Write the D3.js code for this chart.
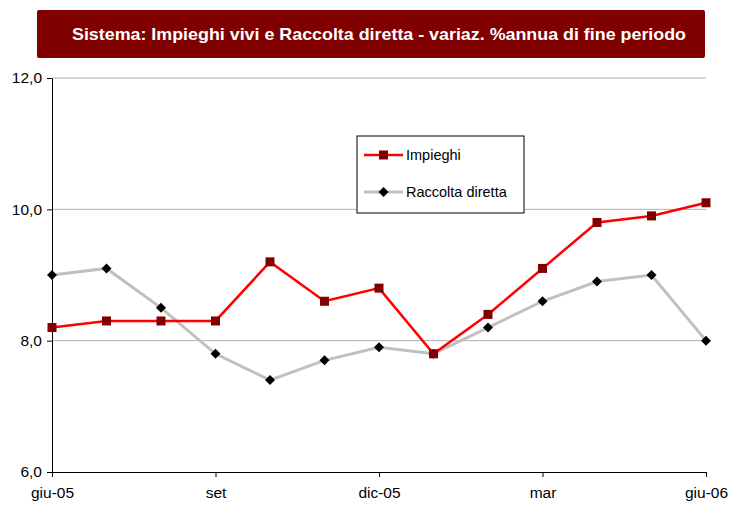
<!DOCTYPE html>
<html>
<head>
<meta charset="utf-8">
<script src="https://cdn.jsdelivr.net/npm/d3@7"></script>
<style>
  body { margin: 0; background: #fff; }
  text { font-family: "Liberation Sans", Arial, sans-serif; }
</style>
</head>
<body>
<div id="graph"></div>
<script>
// data
const months = ['giu-05', 'lug', 'ago', 'set', 'ott', 'nov', 'dic-05', 'gen', 'feb', 'mar', 'apr', 'mag', 'giu-06'];
const tickMonths = ['giu-05', 'set', 'dic-05', 'mar', 'giu-06'];
const impieghi = [8.2, 8.3, 8.3, 8.3, 9.2, 8.6, 8.8, 7.8, 8.4, 9.1, 9.8, 9.9, 10.1];
const raccolta = [9.0, 9.1, 8.5, 7.8, 7.4, 7.7, 7.9, 7.8, 8.2, 8.6, 8.9, 9.0, 8.0];
const yTicks = [6, 8, 10, 12];

const svgWidth = 729;
const svgHeight = 505;
const margin = { top: 78, right: 23, bottom: 33, left: 52 };
const w = svgWidth - margin.left - margin.right;
const h = svgHeight - margin.top - margin.bottom;

const svg = d3.select('#graph')
  .append('svg')
  .attr('width', svgWidth)
  .attr('height', svgHeight);

// title box
svg.append('rect')
  .attr('x', 37).attr('y', 10)
  .attr('width', 668).attr('height', 48)
  .attr('rx', 2)
  .attr('fill', '#800000');
svg.append('text')
  .attr('x', 379).attr('y', 40)
  .attr('text-anchor', 'middle')
  .attr('fill', '#fff')
  .attr('font-size', 17)
  .attr('font-weight', 'bold')
  .attr('textLength', 614)
  .attr('lengthAdjust', 'spacingAndGlyphs')
  .text('Sistema: Impieghi vivi e Raccolta diretta - variaz. %annua di fine periodo');

const g = svg.append('g')
  .attr('transform', `translate(${margin.left}, ${margin.top})`);

const x = d3.scalePoint().domain(months).range([0, w]);
const y = d3.scaleLinear().domain([6, 12]).range([h, 0]);

// gridlines
g.append('g')
  .selectAll('line')
  .data(yTicks.filter(d => d > 6))
  .join('line')
  .attr('x1', 0).attr('x2', w)
  .attr('y1', d => y(d)).attr('y2', d => y(d))
  .attr('stroke', '#b0b0b0')
  .attr('stroke-width', 1);

// axes
const yAxis = g.append('g')
  .call(d3.axisLeft(y).tickValues(yTicks).tickSize(5).tickSizeOuter(0)
    .tickFormat(d => d3.format('.1f')(d).replace('.', ',')));
const xAxis = g.append('g')
  .attr('transform', `translate(0, ${h})`)
  .call(d3.axisBottom(x).tickValues(tickMonths).tickSize(5).tickSizeOuter(0));

[yAxis, xAxis].forEach(a => {
  a.select('.domain').attr('stroke', '#000');
  a.selectAll('line').attr('stroke', '#000');
  a.selectAll('text')
    .attr('font-size', 15.5)
    .attr('fill', '#000')
    .style('font-family', '"Liberation Sans", Arial, sans-serif');
});
yAxis.selectAll('text').attr('x', -10);
xAxis.selectAll('text').attr('y', 26).attr('dy', 0);

const line = d3.line()
  .x((d, i) => x(months[i]))
  .y(d => y(d));

// Raccolta diretta
g.append('path')
  .attr('d', line(raccolta))
  .attr('fill', 'none')
  .attr('stroke', '#c0c0c0')
  .attr('stroke-width', 3);

// Impieghi
g.append('path')
  .attr('d', line(impieghi))
  .attr('fill', 'none')
  .attr('stroke', '#ff0000')
  .attr('stroke-width', 2.5);

const diamond = d3.symbol().type(d3.symbolSquare).size(50);

g.append('g')
  .selectAll('path')
  .data(raccolta)
  .join('path')
  .attr('d', diamond)
  .attr('transform', (d, i) => `translate(${x(months[i])}, ${y(d)}) rotate(45)`)
  .attr('fill', '#000');

g.append('g')
  .selectAll('rect')
  .data(impieghi)
  .join('rect')
  .attr('x', (d, i) => x(months[i]) - 4.5)
  .attr('y', d => y(d) - 4.5)
  .attr('width', 9).attr('height', 9)
  .attr('fill', '#800000');

// legend
const legend = svg.append('g').attr('transform', 'translate(357, 136)');
legend.append('rect')
  .attr('width', 167).attr('height', 77)
  .attr('fill', '#fff')
  .attr('stroke', '#000')
  .attr('stroke-width', 1);

const items = [
  { name: 'Impieghi', color: '#ff0000', width: 2.5, marker: 'square' },
  { name: 'Raccolta diretta', color: '#c0c0c0', width: 3, marker: 'diamond' }
];
items.forEach((it, i) => {
  const ly = 19 + i * 37;
  legend.append('line')
    .attr('x1', 7).attr('x2', 46)
    .attr('y1', ly).attr('y2', ly)
    .attr('stroke', it.color)
    .attr('stroke-width', it.width);
  if (it.marker === 'square') {
    legend.append('rect')
      .attr('x', 22).attr('y', ly - 4.5)
      .attr('width', 9).attr('height', 9)
      .attr('fill', '#800000');
  } else {
    legend.append('path')
      .attr('d', diamond)
      .attr('transform', `translate(26.5, ${ly}) rotate(45)`)
      .attr('fill', '#000');
  }
  legend.append('text')
    .attr('x', 49).attr('y', ly + 5)
    .attr('font-size', 14.5)
    .attr('fill', '#000')
    .text(it.name);
});
</script>
</body>
</html>
